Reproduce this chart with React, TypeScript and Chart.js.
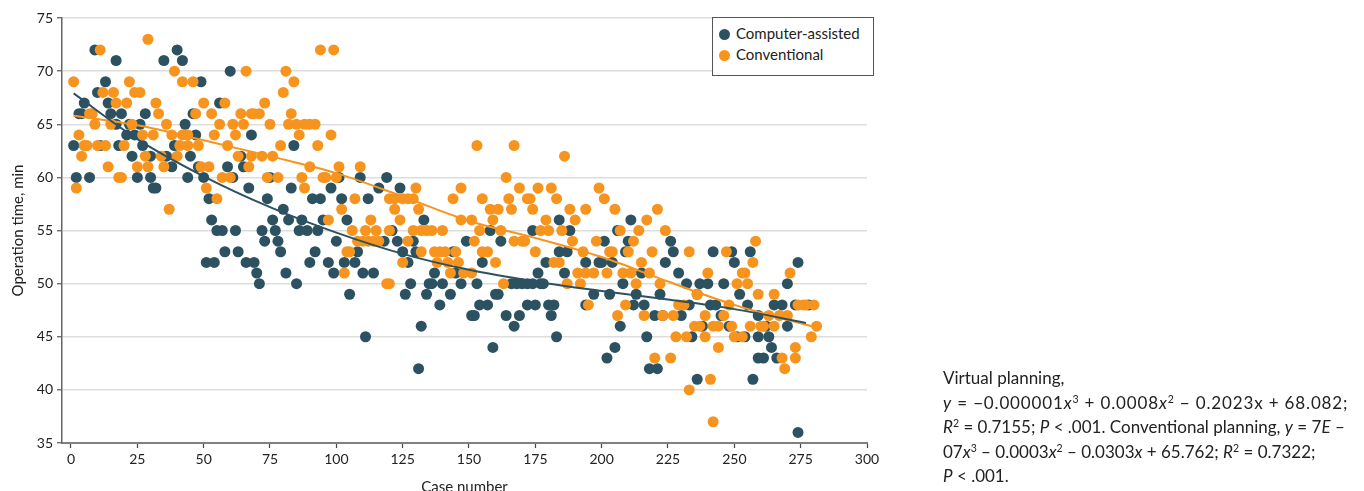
import React, { useEffect, useRef } from "react";
import { Chart, registerables } from "chart.js";
Chart.register(...registerables);

const BLUE = "#2c5261";
const ORANGE = "#f7941e";

// Computer-assisted (virtual planning) cases
const blueCases = [
  9,17,35,13,10,5,14,3,4,15,19,28,17,22,26,21,24,1,11,18,27,23,36,30,2,7,25,30,31,32,
  40,42,60,49,56,46,43,47,68,39,45,64,38,48,59,65,44,50,61,67,52,74,53,76,55,57,62,72,58,63,73,51,54,66,69,70,71,
  84,75,101,109,83,98,116,91,94,102,112,80,82,87,95,104,77,86,89,93,78,100,79,92,108,90,97,103,107,81,99,110,114,85,105,111,
  119,124,133,121,118,123,129,149,125,130,144,127,155,137,145,128,135,136,140,147,153,126,134,143,139,154,151,152,132,131,
  184,158,174,188,162,184,187,179,194,176,186,166,168,170,172,174,177,178,160,161,157,172,175,180,182,194,164,169,181,167,183,159,
  211,206,201,210,226,227,209,224,199,200,204,215,229,208,232,197,203,213,222,236,212,216,220,223,230,207,217,234,205,202,218,221,236,
  242,249,256,250,274,237,240,246,270,252,233,241,243,255,265,268,273,245,259,238,248,262,270,251,254,259,263,264,259,261,266,257,274,
  278,
];
const blueMinutes = [
  72,71,71,69,68,67,67,66,66,66,66,66,65,65,65,64,64,63,63,63,63,62,62,62,60,60,60,60,59,59,
  72,71,70,69,67,66,65,64,64,63,62,62,61,61,61,61,60,60,60,59,58,58,56,56,55,55,55,55,53,53,54,52,52,52,52,51,50,
  63,60,60,60,59,59,59,58,58,58,58,57,56,56,56,56,55,55,55,55,54,54,53,53,53,52,52,52,52,51,51,51,51,50,49,45,
  60,59,56,55,54,54,54,54,53,53,53,52,52,51,51,50,50,50,50,50,50,49,49,49,48,48,47,47,46,42,
  56,55,55,55,54,53,53,52,52,51,51,50,50,50,50,50,50,50,49,49,48,48,48,48,48,48,47,47,47,46,45,44,
  56,55,54,54,54,53,53,52,52,52,52,51,51,50,50,49,49,49,49,49,48,48,47,47,47,46,45,45,44,43,42,42,41,
  53,53,53,52,52,50,50,50,50,49,48,48,48,48,48,48,48,47,47,46,46,46,46,45,45,45,45,44,43,43,43,41,36,
  48,
];

// Conventional planning cases
const orangeCases = [
  1,29,11,22,12,16,24,26,17,21,32,7,8,33,9,15,23,36,3,27,31,5,6,10,13,20,4,28,34,14,25,29,35,18,19,2,37,
  39,66,42,46,50,58,73,47,53,64,68,69,71,56,61,65,75,38,42,44,54,62,41,44,48,59,40,63,68,72,76,49,52,67,57,60,74,51,55,
  94,99,81,84,80,83,82,85,88,90,92,86,98,79,93,90,101,109,78,87,95,96,100,88,107,102,97,113,106,111,115,108,110,112,114,116,104,105,103,
  130,147,153,120,122,125,127,129,144,155,122,131,124,147,151,120,129,132,134,136,140,154,127,152,132,137,139,141,145,155,125,138,142,146,143,148,151,119,120,
  167,186,164,169,176,181,165,172,173,183,158,161,166,174,188,194,159,179,190,162,177,180,185,167,170,171,189,157,175,193,160,182,184,191,194,163,187,192,195,
  199,201,205,221,217,207,214,224,198,212,203,204,210,219,233,215,197,202,208,211,218,213,222,209,229,231,216,206,223,227,228,232,220,226,233,
  258,247,257,240,253,254,271,251,255,236,259,265,248,239,246,263,267,270,235,237,242,244,249,256,260,261,265,239,250,253,244,268,269,241,242,
  274,276,277,280,281,279,273,273,
];
const orangeMinutes = [
  69,73,72,69,68,68,68,68,67,67,67,66,66,66,65,65,65,65,64,64,64,63,63,63,63,63,62,62,62,61,61,61,61,60,60,59,57,
  70,70,69,69,67,67,67,66,66,66,66,66,66,65,65,65,65,64,64,64,64,64,63,63,63,63,62,62,62,62,62,61,61,61,60,60,60,59,58,
  72,72,70,69,68,66,65,65,65,65,65,64,64,63,63,61,61,61,60,60,60,60,60,59,58,57,56,56,55,55,55,54,54,54,54,54,53,53,51,
  59,59,63,58,58,58,58,58,58,58,57,57,56,56,56,55,55,55,55,55,55,55,54,54,53,53,53,53,53,53,52,52,52,52,51,51,51,50,50,
  63,62,60,59,59,59,58,58,58,58,57,57,57,57,57,57,56,56,56,55,55,55,55,54,54,54,54,53,53,53,52,52,52,51,51,50,50,50,48,
  59,58,57,57,56,55,55,55,54,54,53,53,53,53,53,52,51,51,51,51,51,50,50,48,48,48,47,47,47,47,45,45,43,43,40,
  54,53,52,51,51,51,51,50,50,49,49,49,48,47,47,47,47,47,46,46,46,46,46,46,46,46,46,45,45,45,44,43,42,41,37,
  48,48,48,48,46,45,44,43,
];

// Fitted trend curves
const blueTrendCases = [1, 25, 50, 75, 100, 125, 150, 175, 200, 225, 250, 277];
const blueTrendMinutes = [67.9, 63.6, 60.1, 57.2, 54.8, 52.8, 51.3, 50.2, 49.3, 48.5, 47.6, 46.3];
const orangeTrendCases = [1, 25, 50, 75, 100, 125, 150, 175, 200, 225, 250, 282];
const orangeTrendMinutes = [65.8, 64.9, 63.5, 62.0, 60.4, 58.2, 55.9, 54.3, 52.5, 50.2, 48.0, 45.8];

const xTicks = [0, 25, 50, 75, 100, 125, 150, 175, 200, 225, 250, 275, 300];
const yTicks = [35, 40, 45, 50, 55, 60, 65, 70, 75];
const legendLabels = ["Computer-assisted", "Conventional"];

const pts = (xs: number[], ys: number[]) => xs.map((x, i) => ({ x, y: ys[i] }));

const TEXT_FONT = "Lato, 'Noto Sans', sans-serif";

export default function App() {
  const ref = useRef<HTMLCanvasElement | null>(null);

  useEffect(() => {
    document.body.style.margin = "0";
    document.body.style.overflow = "hidden";
    const canvas = ref.current;
    if (!canvas) return;
    const chart = new Chart(canvas, {
      type: "scatter",
      data: {
        datasets: [
          {
            label: "blue trend",
            data: pts(blueTrendCases, blueTrendMinutes),
            showLine: true,
            borderColor: BLUE,
            borderWidth: 2,
            pointRadius: 0,
            cubicInterpolationMode: "monotone",
            order: 0,
          } as any,
          {
            label: "orange trend",
            data: pts(orangeTrendCases, orangeTrendMinutes),
            showLine: true,
            borderColor: ORANGE,
            borderWidth: 2,
            pointRadius: 0,
            cubicInterpolationMode: "monotone",
            order: 0,
          } as any,
          {
            label: legendLabels[1],
            data: pts(orangeCases, orangeMinutes),
            backgroundColor: ORANGE,
            borderWidth: 0,
            pointRadius: 5.5,
            order: 1,
          },
          {
            label: legendLabels[0],
            data: pts(blueCases, blueMinutes),
            backgroundColor: BLUE,
            borderWidth: 0,
            pointRadius: 5.5,
            order: 2,
          },
        ],
      },
      options: {
        responsive: false,
        animation: false,
        layout: { padding: { left: 0, top: 18, right: 497, bottom: 0 } },
        plugins: { legend: { display: false }, tooltip: { enabled: false } },
        scales: {
          x: {
            type: "linear",
            min: -3.39,
            max: 300,
            afterFit: (s: any) => { s.height = 57; },
            afterBuildTicks: (s: any) => { s.ticks = xTicks.map((v) => ({ value: v })); },
            ticks: { includeBounds: false, color: "#222", font: { family: TEXT_FONT, size: 14 }, padding: 3, maxRotation: 0 },
            grid: { drawOnChartArea: false, drawTicks: true, tickLength: 5, tickColor: "#444", tickWidth: 1.2 },
            border: { color: "#808080", width: 2 },
            title: { display: true, text: "Case number", color: "#222", font: { family: TEXT_FONT, size: 15 }, padding: { top: 0, bottom: 4 } },
          },
          y: {
            type: "linear",
            min: 35,
            max: 75,
            afterFit: (s: any) => { s.width = 62; },
            afterBuildTicks: (s: any) => { s.ticks = yTicks.map((v) => ({ value: v })); },
            ticks: { color: "#222", font: { family: TEXT_FONT, size: 14 }, padding: 4 },
            grid: { color: "#dddddd", lineWidth: 1.5, tickLength: 5, tickColor: "#555", tickWidth: 1.2 },
            border: { color: "#666", width: 1.5 },
            title: { display: true, text: "Operation time, min", color: "#222", font: { family: TEXT_FONT, size: 15 }, padding: { top: 9, bottom: 0 } },
          },
        },
      },
    });
    return () => chart.destroy();
  }, []);

  const dot = (c: string) => (
    <span style={{ display: "inline-block", width: 11, height: 11, borderRadius: "50%", background: c, marginRight: 6, verticalAlign: "-1px" }} />
  );
  const sup = (t: string) => <sup style={{ fontSize: "0.62em", verticalAlign: "0.55em", lineHeight: 0 }}>{t}</sup>;

  return (
    <div style={{ position: "relative", width: 1364, height: 491, overflow: "hidden", background: "#fff" }}>
      <canvas ref={ref} width={1364} height={500} style={{ position: "absolute", left: 0, top: 0 }} />
      <div
        style={{
          position: "absolute", left: 712, top: 17, width: 154, height: 52, border: "1px solid #555", background: "#fff",
          fontFamily: TEXT_FONT, fontSize: 15, color: "#222", lineHeight: "21px", paddingTop: 5, paddingLeft: 6, boxSizing: "content-box",
        }}
      >
        <div style={{ whiteSpace: "nowrap" }}>{dot(BLUE)}{legendLabels[0]}</div>
        <div style={{ whiteSpace: "nowrap" }}>{dot(ORANGE)}{legendLabels[1]}</div>
      </div>
      <div
        style={{
          position: "absolute", left: 943, top: 366, fontFamily: TEXT_FONT, fontSize: 17, lineHeight: "24.5px", color: "#222", whiteSpace: "nowrap",
        }}
      >
        <div>Virtual planning,</div>
        <div style={{ letterSpacing: "0.85px" }}><i>y</i> = −0.000001<i>x</i>{sup("3")} + 0.0008<i>x</i>{sup("2")} − 0.2023x + 68.082;</div>
        <div><i>R</i>{sup("2")} = 0.7155; <i>P</i> &lt; .001. Conventional planning, <i>y</i> = 7<i>E</i> –</div>
        <div>07<i>x</i>{sup("3")} – 0.0003<i>x</i>{sup("2")} – 0.0303<i>x</i> + 65.762; <i>R</i>{sup("2")} = 0.7322;</div>
        <div><i>P</i> &lt; .001.</div>
      </div>
    </div>
  );
}
